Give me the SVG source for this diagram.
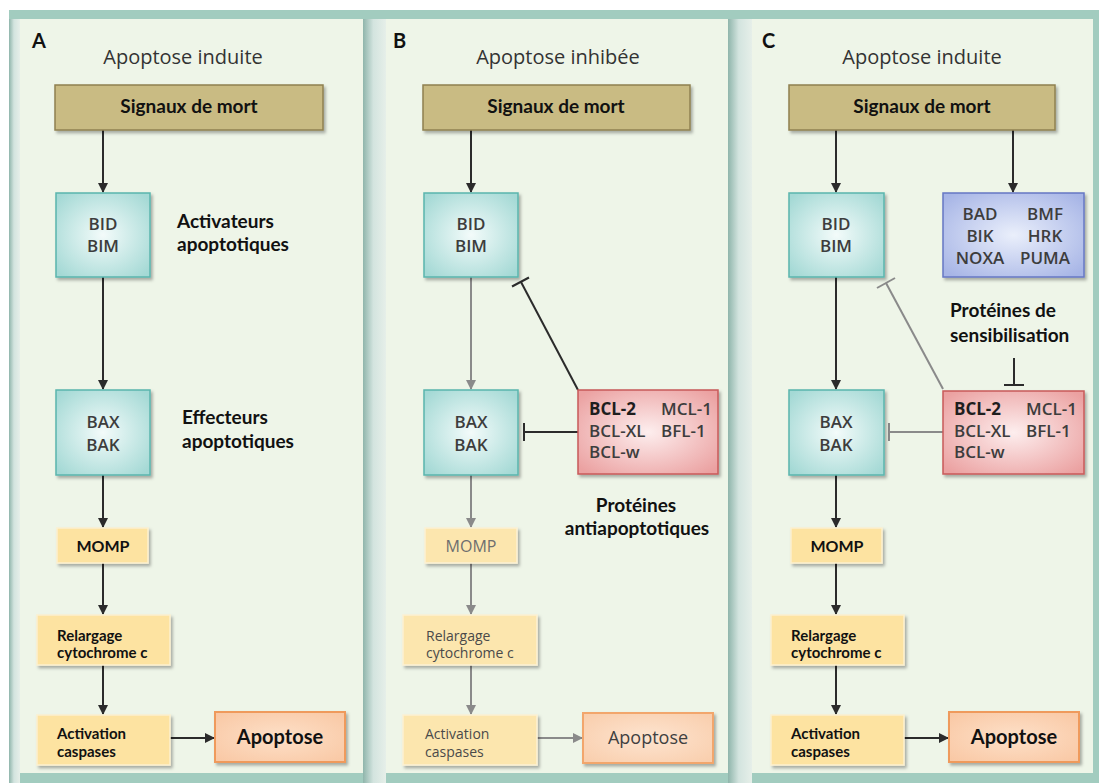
<svg xmlns="http://www.w3.org/2000/svg" width="1099" height="783" viewBox="0 0 1099 783">
<defs>
<style>
.panel{fill:#eef5e8}
.title{font-family:"Open Sans",sans-serif;font-size:20px;fill:#333;text-anchor:middle}
.letter{font-family:"Lato",sans-serif;font-weight:bold;font-size:20px;fill:#111}
.cal{font-family:"Lato",sans-serif;font-weight:bold;fill:#111}
.din{font-family:"Open Sans",sans-serif;font-weight:600;fill:#3d3d3d}
.dinb{font-family:"Open Sans",sans-serif;font-weight:700;fill:#1e1e1e}
.dinl{font-family:"Open Sans",sans-serif;font-weight:400;fill:#4a4a4a}
.sig{fill:#c9bb83;stroke:#8f8050;stroke-width:1.5}
.teal{fill:url(#gTeal);stroke:#5ab5ad;stroke-width:1.5}
.blue{fill:url(#gBlue);stroke:#6677c4;stroke-width:1.5}
.pink{fill:url(#gPink);stroke:#c85a5a;stroke-width:1.5}
.yel{fill:#fde3a1;stroke:#fcf0cf;stroke-width:1.5}
.yelB{fill:#fce6ae;stroke:#fcf1d4;stroke-width:1.5}
.apo{fill:url(#gApo);stroke:#ef9a5c;stroke-width:2}
.apoB{fill:url(#gApoB);stroke:#f2a66c;stroke-width:2}
.ad{stroke:#2b2b2b;stroke-width:2;fill:none}
.ag{stroke:#8a8a8a;stroke-width:2;fill:none}
.ard{marker-end:url(#mD)}
.arg{marker-end:url(#mG)}
</style>
<linearGradient id="gGap" x1="0" y1="0" x2="1" y2="0">
<stop offset="0" stop-color="#8fb5ab"/><stop offset="0.45" stop-color="#d3e4df"/><stop offset="1" stop-color="#e6efe9"/>
</linearGradient>
<radialGradient id="gTeal" cx="0.5" cy="0.5" r="0.65"><stop offset="0" stop-color="#f3fbfa"/><stop offset="1" stop-color="#a4d9d5"/></radialGradient>
<radialGradient id="gBlue" cx="0.5" cy="0.5" r="0.65"><stop offset="0" stop-color="#eaeffb"/><stop offset="1" stop-color="#a7b5e6"/></radialGradient>
<radialGradient id="gPink" cx="0.5" cy="0.5" r="0.65"><stop offset="0" stop-color="#fdeeee"/><stop offset="1" stop-color="#eba1a1"/></radialGradient>
<radialGradient id="gApo" cx="0.5" cy="0.5" r="0.7"><stop offset="0" stop-color="#fde0c8"/><stop offset="1" stop-color="#f9c7a3"/></radialGradient>
<radialGradient id="gApoB" cx="0.5" cy="0.5" r="0.7"><stop offset="0" stop-color="#fde4d0"/><stop offset="1" stop-color="#f9cdab"/></radialGradient>
<filter id="sh" x="-10%" y="-10%" width="130%" height="130%"><feDropShadow dx="2" dy="2.5" stdDeviation="1.8" flood-color="#000" flood-opacity="0.3"/></filter>
<marker id="mD" viewBox="0 0 10 10" refX="9" refY="5" markerWidth="5" markerHeight="5" orient="auto" markerUnits="strokeWidth"><path d="M0,0 L10,5 L0,10 z" fill="#2b2b2b"/></marker>
<marker id="mG" viewBox="0 0 10 10" refX="9" refY="5" markerWidth="5" markerHeight="5" orient="auto" markerUnits="strokeWidth"><path d="M0,0 L10,5 L0,10 z" fill="#8a8a8a"/></marker>
</defs>
<rect x="0" y="0" width="1099" height="783" fill="#ffffff"/>
<rect x="9" y="10" width="1090" height="773" fill="#a2ccbf"/>
<rect x="9" y="19" width="11" height="764" fill="url(#gGap)"/>
<rect x="363" y="19" width="23" height="764" fill="url(#gGap)"/>
<rect x="728" y="19" width="24" height="764" fill="url(#gGap)"/>
<g id="panelA"><rect class="panel" x="20" y="19" width="343" height="754"/></g>
<g id="panelB"><rect class="panel" x="386" y="19" width="342" height="754"/></g>
<g id="panelC"><rect class="panel" x="752" y="19" width="341" height="754"/></g>

<g id="connectors">
<line class="ad ard" x1="103" y1="130" x2="103" y2="192"/>
<line class="ad ard" x1="103" y1="277" x2="103" y2="389"/>
<line class="ad ard" x1="103" y1="475" x2="103" y2="527"/>
<line class="ad ard" x1="103" y1="563" x2="103" y2="614"/>
<line class="ad ard" x1="103" y1="665" x2="103" y2="714"/>
<line class="ad ard" x1="170" y1="738" x2="214" y2="738"/>

<line class="ad ard" x1="471" y1="130" x2="471" y2="192"/>
<line class="ag arg" x1="471" y1="277" x2="471" y2="389"/>
<line class="ag arg" x1="471" y1="475" x2="471" y2="527"/>
<line class="ag arg" x1="471" y1="563" x2="471" y2="614"/>
<line class="ag arg" x1="471" y1="665" x2="471" y2="714"/>
<line class="ag arg" x1="537" y1="738" x2="582" y2="738"/>
<line class="ad" x1="578" y1="390" x2="521" y2="282"/>
<line class="ad" x1="512" y1="286.5" x2="529" y2="277.5"/>
<line class="ad" x1="578" y1="432" x2="524" y2="432"/>
<line class="ad" x1="524" y1="423" x2="524" y2="441"/>

<line class="ad ard" x1="836" y1="130" x2="836" y2="192"/>
<line class="ad ard" x1="1013" y1="130" x2="1013" y2="192"/>
<line class="ad ard" x1="836" y1="277" x2="836" y2="389"/>
<line class="ad ard" x1="836" y1="475" x2="836" y2="527"/>
<line class="ad ard" x1="836" y1="563" x2="836" y2="614"/>
<line class="ad ard" x1="836" y1="665" x2="836" y2="714"/>
<line class="ad ard" x1="904" y1="738" x2="948" y2="738"/>
<line class="ag" x1="943" y1="389" x2="886" y2="283"/>
<line class="ag" x1="877" y1="288" x2="895" y2="278"/>
<line class="ag" x1="943" y1="432" x2="889" y2="432"/>
<line class="ag" x1="889" y1="423" x2="889" y2="441"/>
<line class="ad" x1="1014" y1="358" x2="1014" y2="385"/>
<line class="ad" x1="1004" y1="385" x2="1024" y2="385"/>
</g>

<g id="labelsA">
<text class="letter" x="32" y="48">A</text>
<text class="title" x="183" y="64">Apoptose induite</text>
<text class="cal" x="177" y="228" font-size="19">Activateurs</text>
<text class="cal" x="177" y="251" font-size="19">apoptotiques</text>
<text class="cal" x="182" y="424" font-size="19">Effecteurs</text>
<text class="cal" x="182" y="448" font-size="19">apoptotiques</text>
</g>
<g id="A-signaux"><rect class="sig" filter="url(#sh)" x="55" y="85" width="268" height="45"/><text class="cal" x="189" y="113" font-size="19" text-anchor="middle">Signaux de mort</text></g>
<g id="A-bid"><rect class="teal" filter="url(#sh)" x="56" y="193" width="94" height="84"/><text class="din" x="103" y="230" font-size="17" text-anchor="middle">BID</text><text class="din" x="103" y="252" font-size="17" text-anchor="middle">BIM</text></g>
<g id="A-bax"><rect class="teal" filter="url(#sh)" x="56" y="390" width="94" height="85"/><text class="din" x="103" y="428" font-size="17" text-anchor="middle">BAX</text><text class="din" x="103" y="451" font-size="17" text-anchor="middle">BAK</text></g>
<g id="A-momp"><rect class="yel" filter="url(#sh)" x="57" y="528" width="91" height="35"/><text class="cal" x="103" y="552" font-size="16" text-anchor="middle" fill="#333">MOMP</text></g>
<g id="A-relargage"><rect class="yel" filter="url(#sh)" x="37" y="615" width="133" height="50"/><text class="cal" x="57" y="641" font-size="15">Relargage</text><text class="cal" x="57" y="658" font-size="15">cytochrome c</text></g>
<g id="A-activation"><rect class="yel" filter="url(#sh)" x="37" y="715" width="133" height="50"/><text class="cal" x="57" y="739" font-size="15">Activation</text><text class="cal" x="57" y="757" font-size="15">caspases</text></g>
<g id="A-apoptose"><rect class="apo" filter="url(#sh)" x="215" y="712" width="130" height="50"/><text class="cal" x="280" y="744" font-size="20" text-anchor="middle">Apoptose</text></g>

<g id="labelsB">
<text class="letter" x="393" y="48">B</text>
<text class="title" x="558" y="64">Apoptose inhibée</text>
<text class="cal" x="636" y="512" font-size="19" text-anchor="middle">Protéines</text>
<text class="cal" x="637" y="535" font-size="19" text-anchor="middle">antiapoptotiques</text>
</g>
<g id="B-signaux"><rect class="sig" filter="url(#sh)" x="423" y="85" width="267" height="45"/><text class="cal" x="556" y="113" font-size="19" text-anchor="middle">Signaux de mort</text></g>
<g id="B-bid"><rect class="teal" filter="url(#sh)" x="424" y="193" width="94" height="84"/><text class="din" x="471" y="230" font-size="17" text-anchor="middle">BID</text><text class="din" x="471" y="252" font-size="17" text-anchor="middle">BIM</text></g>
<g id="B-bax"><rect class="teal" filter="url(#sh)" x="424" y="390" width="94" height="85"/><text class="din" x="471" y="428" font-size="17" text-anchor="middle">BAX</text><text class="din" x="471" y="451" font-size="17" text-anchor="middle">BAK</text></g>
<g id="B-bcl"><rect class="pink" filter="url(#sh)" x="578" y="390" width="140" height="84"/><text class="dinb" x="589" y="415" font-size="17">BCL-2</text><text class="din" x="661" y="415" font-size="17">MCL-1</text><text class="din" x="589" y="437" font-size="17">BCL-XL</text><text class="din" x="661" y="437" font-size="17">BFL-1</text><text class="din" x="589" y="458" font-size="17">BCL-w</text></g>
<g id="B-momp"><rect class="yelB" filter="url(#sh)" x="425" y="528" width="92" height="35"/><text class="dinl" x="471" y="552" font-size="16" text-anchor="middle" style="fill:#6e6e6e">MOMP</text></g>
<g id="B-relargage"><rect class="yelB" filter="url(#sh)" x="403" y="615" width="134" height="50"/><text class="dinl" x="426" y="641" font-size="14">Relargage</text><text class="dinl" x="426" y="658" font-size="14">cytochrome c</text></g>
<g id="B-activation"><rect class="yelB" filter="url(#sh)" x="403" y="715" width="134" height="50"/><text class="dinl" x="425" y="739" font-size="14">Activation</text><text class="dinl" x="425" y="757" font-size="14">caspases</text></g>
<g id="B-apoptose"><rect class="apoB" filter="url(#sh)" x="583" y="713" width="130" height="50"/><text class="dinl" x="648" y="744" font-size="18" text-anchor="middle" style="fill:#404040">Apoptose</text></g>

<g id="labelsC">
<text class="letter" x="762" y="48">C</text>
<text class="title" x="922" y="64">Apoptose induite</text>
<text class="cal" x="950" y="317" font-size="19">Protéines de</text>
<text class="cal" x="950" y="342" font-size="19">sensibilisation</text>
</g>
<g id="C-signaux"><rect class="sig" filter="url(#sh)" x="789" y="85" width="266" height="45"/><text class="cal" x="922" y="113" font-size="19" text-anchor="middle">Signaux de mort</text></g>
<g id="C-bid"><rect class="teal" filter="url(#sh)" x="789" y="193" width="95" height="84"/><text class="din" x="836" y="230" font-size="17" text-anchor="middle">BID</text><text class="din" x="836" y="252" font-size="17" text-anchor="middle">BIM</text></g>
<g id="C-sens"><rect class="blue" filter="url(#sh)" x="943" y="193" width="141" height="84"/><text class="din" x="980" y="220" font-size="17" text-anchor="middle">BAD</text><text class="din" x="1045" y="220" font-size="17" text-anchor="middle">BMF</text><text class="din" x="980" y="242" font-size="17" text-anchor="middle">BIK</text><text class="din" x="1045" y="242" font-size="17" text-anchor="middle">HRK</text><text class="din" x="980" y="264" font-size="17" text-anchor="middle">NOXA</text><text class="din" x="1045" y="264" font-size="17" text-anchor="middle">PUMA</text></g>
<g id="C-bax"><rect class="teal" filter="url(#sh)" x="789" y="390" width="95" height="85"/><text class="din" x="836" y="428" font-size="17" text-anchor="middle">BAX</text><text class="din" x="836" y="451" font-size="17" text-anchor="middle">BAK</text></g>
<g id="C-bcl"><rect class="pink" filter="url(#sh)" x="943" y="391" width="141" height="83"/><text class="dinb" x="954" y="415" font-size="17">BCL-2</text><text class="din" x="1026" y="415" font-size="17">MCL-1</text><text class="din" x="954" y="437" font-size="17">BCL-XL</text><text class="din" x="1026" y="437" font-size="17">BFL-1</text><text class="din" x="954" y="458" font-size="17">BCL-w</text></g>
<g id="C-momp"><rect class="yel" filter="url(#sh)" x="791" y="528" width="91" height="35"/><text class="cal" x="837" y="552" font-size="16" text-anchor="middle" fill="#333">MOMP</text></g>
<g id="C-relargage"><rect class="yel" filter="url(#sh)" x="771" y="615" width="133" height="50"/><text class="cal" x="791" y="641" font-size="15">Relargage</text><text class="cal" x="791" y="658" font-size="15">cytochrome c</text></g>
<g id="C-activation"><rect class="yel" filter="url(#sh)" x="771" y="715" width="133" height="50"/><text class="cal" x="791" y="739" font-size="15">Activation</text><text class="cal" x="791" y="757" font-size="15">caspases</text></g>
<g id="C-apoptose"><rect class="apo" filter="url(#sh)" x="949" y="712" width="130" height="50"/><text class="cal" x="1014" y="744" font-size="20" text-anchor="middle">Apoptose</text></g>
</svg>
